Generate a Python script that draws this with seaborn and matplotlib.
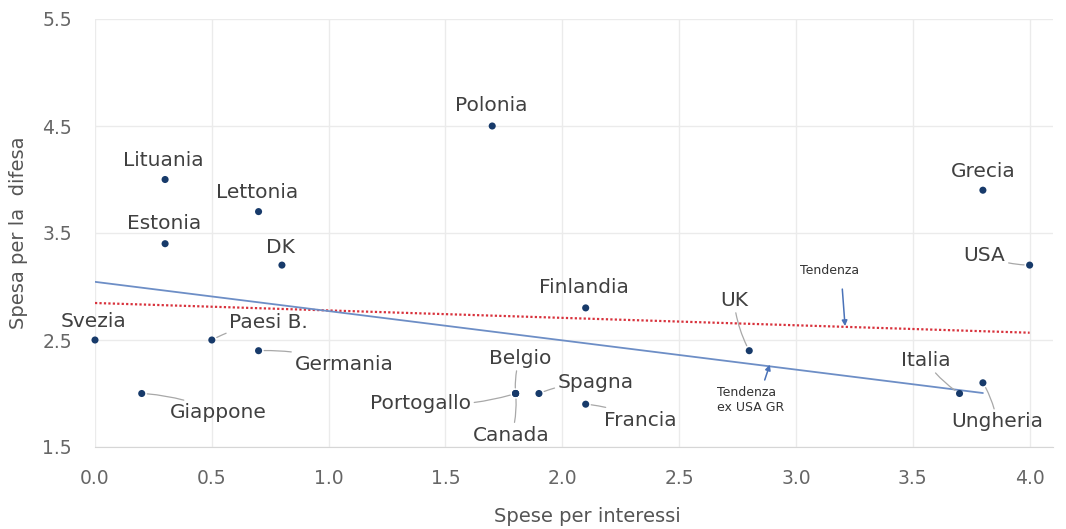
import numpy as np
import pandas as pd
import matplotlib.pyplot as plt
import seaborn as sns
from matplotlib.ticker import FixedLocator, MultipleLocator

# Dati: spesa per interessi vs spesa per la difesa (% PIL)
paesi = ['Svezia', 'Giappone', 'Lituania', 'Estonia', 'Paesi B.', 'Germania',
         'Lettonia', 'DK', 'Polonia', 'Portogallo', 'Belgio', 'Canada',
         'Spagna', 'Francia', 'Finlandia', 'UK', 'Italia', 'Ungheria',
         'Grecia', 'USA']
interessi = [0.0, 0.2, 0.3, 0.3, 0.5, 0.7, 0.7, 0.8, 1.7, 1.8, 1.8, 1.8,
             1.9, 2.1, 2.1, 2.8, 3.7, 3.8, 3.8, 4.0]
difesa = [2.5, 2.0, 4.0, 3.4, 2.5, 2.4, 3.7, 3.2, 4.5, 2.0, 2.0, 2.0,
          2.0, 1.9, 2.8, 2.4, 2.0, 2.1, 3.9, 3.2]
esclusi = ['USA', 'Grecia']

df = pd.DataFrame({'paese': paesi, 'interessi': interessi, 'difesa': difesa})
df_ex = df[~df['paese'].isin(esclusi)]

sns.set_style('white')
plt.rcParams['font.family'] = ['DejaVu Sans']

fig = plt.figure(figsize=(10.66, 5.29), dpi=100)
ax = fig.add_axes([95 / 1066, 1 - 447 / 529, 958 / 1066, 428 / 529])

# linee di tendenza
sns.regplot(data=df, x='interessi', y='difesa', scatter=False, ci=None, ax=ax,
            color='#d8323c', line_kws=dict(lw=1.6, ls=(0, (1, 1))))
sns.regplot(data=df_ex, x='interessi', y='difesa', scatter=False, ci=None, ax=ax,
            color='#6d8ec6', line_kws=dict(lw=1.3))

sns.scatterplot(data=df, x='interessi', y='difesa', color='#173a6a', s=26,
                edgecolor='none', ax=ax, zorder=4, clip_on=False)

# posizione etichette (offset in punti) e quali hanno la linea guida
label_offsets = {
    'Svezia': (-1, 13), 'Giappone': (55, -14), 'Lituania': (-1, 14),
    'Estonia': (-1, 14.5), 'Paesi B.': (41, 12.5), 'Germania': (61.5, -10),
    'Lettonia': (-1, 14), 'DK': (-1, 13), 'Polonia': (-1, 14.5),
    'Portogallo': (-68.5, -7), 'Belgio': (3, 25.5), 'Canada': (-3, -30),
    'Spagna': (41, 8), 'Francia': (39, -11.5), 'Finlandia': (-1, 14.5),
    'UK': (-11, 36.5), 'Italia': (-24.5, 24), 'Ungheria': (10, -28),
    'Grecia': (0, 13.5), 'USA': (-32.5, 7),
}
con_linea = ['Giappone', 'Paesi B.', 'Germania', 'Portogallo', 'Belgio',
             'Canada', 'Spagna', 'Francia', 'UK', 'Italia', 'Ungheria', 'USA']

for p, xv, yv in zip(paesi, interessi, difesa):
    arrow = None
    if p in con_linea:
        arrow = dict(arrowstyle='-', color='#a8a8a8', lw=0.9, shrinkA=0, shrinkB=4,
                     connectionstyle='arc3,rad=0.1')
    ax.annotate(p, xy=(xv, yv), xytext=label_offsets[p], textcoords='offset points',
                ha='center', va='center', fontsize=14.5, color='#404040',
                arrowprops=arrow, annotation_clip=False, zorder=5)

ax.annotate('Tendenza', xy=(3.21, 2.63), xytext=(3.144, 3.145), ha='center', va='center',
            fontsize=9, color='#333333',
            arrowprops=dict(arrowstyle='-|>', color='#4a72b8', lw=1.1,
                            mutation_scale=8, relpos=(0.7, 0), shrinkA=6, shrinkB=0))
ax.annotate('Tendenza\nex USA GR', xy=(2.888, 2.27), xytext=(2.806, 1.94), ha='center',
            va='center', multialignment='left', fontsize=9, color='#333333',
            arrowprops=dict(arrowstyle='-|>', color='#4a72b8', lw=1.1,
                            mutation_scale=8, relpos=(0.68, 1), shrinkA=2, shrinkB=0))

ax.set_xlim(0, 4.1)
ax.set_ylim(1.5, 5.5)
ax.xaxis.set_major_locator(MultipleLocator(0.5))
ax.xaxis.set_minor_locator(MultipleLocator(0.1))
ax.yaxis.set_major_locator(FixedLocator([1.5, 2.5, 3.5, 4.5, 5.5]))
ax.yaxis.set_minor_locator(FixedLocator(np.arange(1.5, 5.5, 0.2)))
ax.xaxis.set_major_formatter(plt.FormatStrFormatter('%.1f'))
ax.yaxis.set_major_formatter(plt.FormatStrFormatter('%.1f'))

ax.grid(True, which='major', color='#ebebeb', lw=1)
ax.set_axisbelow(True)
for s in ['top', 'right', 'left']:
    ax.spines[s].set_visible(False)
ax.spines['bottom'].set_color('#d6d6d6')

ax.tick_params(axis='both', which='both', color='#cccccc', length=4.5, width=1,
               labelcolor='#666666', labelsize=13.5)
ax.tick_params(axis='x', pad=11)
ax.tick_params(axis='y', pad=12)

ax.set_xlabel('Spese per interessi', fontsize=14, color='#555555')
ax.set_ylabel('Spesa per la  difesa', fontsize=14, color='#555555')
ax.xaxis.set_label_coords(0.514, -0.14)
ax.yaxis.set_label_coords(-0.07, 0.5)

fig.savefig('out.png', dpi=100)
